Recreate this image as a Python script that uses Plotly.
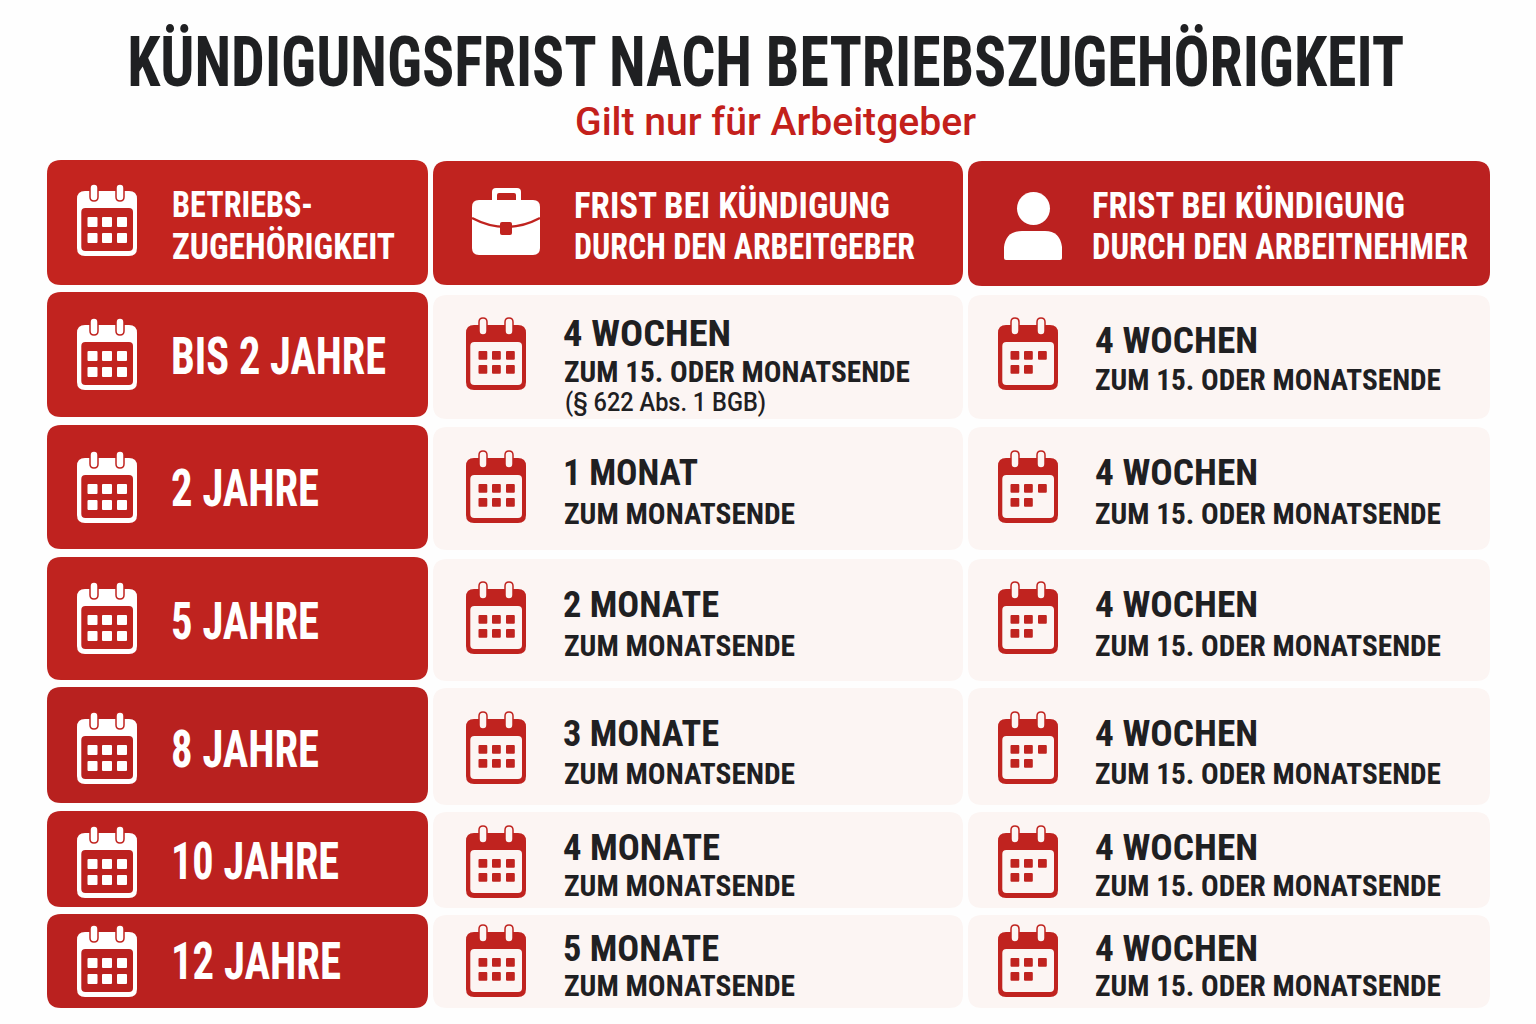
import json
import plotly.graph_objects as go

title = "KÜNDIGUNGSFRIST NACH BETRIEBSZUGEHÖRIGKEIT"
subtitle = "Gilt nur für Arbeitgeber"
headers = [["BETRIEBS-", "ZUGEHÖRIGKEIT"],
           ["FRIST BEI KÜNDIGUNG", "DURCH DEN ARBEITGEBER"],
           ["FRIST BEI KÜNDIGUNG", "DURCH DEN ARBEITNEHMER"]]
tenure = ["BIS 2 JAHRE", "2 JAHRE", "5 JAHRE", "8 JAHRE", "10 JAHRE", "12 JAHRE"]
employer_main = ["4 WOCHEN", "1 MONAT", "2 MONATE", "3 MONATE", "4 MONATE", "5 MONATE"]
employer_sub = ["ZUM 15. ODER MONATSENDE", "ZUM MONATSENDE", "ZUM MONATSENDE",
                "ZUM MONATSENDE", "ZUM MONATSENDE", "ZUM MONATSENDE"]
employee_main = ["4 WOCHEN"] * 6
employee_sub = ["ZUM 15. ODER MONATSENDE"] * 6
note = "(§ 622 Abs. 1 BGB)"

# layout (pixels)
left_tops = [292, 425, 557, 687, 811, 914]
left_bots = [417, 549, 680, 803, 907, 1008]
cell_tops = [295, 427, 559, 688, 812, 915]
cell_bots = [419, 550, 681, 805, 908, 1008]
icon_mid = [354, 487, 618, 748, 862, 961]
label_y = [356, 488, 621, 749, 861, 961]
emp_main_y = [333, 472, 604, 733, 847, 948]
emp_sub_y = [371, 513, 645, 773, 885, 985]
ee_main_y = [340, 472, 604, 733, 847, 948]
ee_sub_y = [379, 513, 645, 773, 885, 985]
# drawn text widths
header_w = [[141, 223], [316, 341], [313, 376]]
tenure_w = [215, 148, 148, 148, 168, 170]
employer_main_w = [168, 135, 156, 156, 157, 156]
employer_sub_w = [346, 231, 231, 231, 231, 231]
employee_main_w = 163
employee_sub_w = 346

RED = "#c0231f"
RED2 = "#bb2120"
row_reds = ["#c1231f", "#bf221f", "#bf231f", "#b8211f", "#bc211f", "#ba211f"]
LIGHT = "#fcf5f3"
DARK = "#1f2022"
WHITE = "#ffffff"
NARROW = "Roboto Condensed, sans-serif"
shapes, notes, widths = [], [], []


def rr(x0, y0, x1, y1, r):
    return (f"M{x0+r},{y0} L{x1-r},{y0} Q{x1},{y0} {x1},{y0+r} L{x1},{y1-r} Q{x1},{y1} {x1-r},{y1} "
            f"L{x0+r},{y1} Q{x0},{y1} {x0},{y1-r} L{x0},{y0+r} Q{x0},{y0} {x0+r},{y0} Z")


def circle(cx, cy, r):
    k = 0.5523 * r
    return (f"M{cx+r},{cy} C{cx+r},{cy+k} {cx+k},{cy+r} {cx},{cy+r} C{cx-k},{cy+r} {cx-r},{cy+k} {cx-r},{cy} "
            f"C{cx-r},{cy-k} {cx-k},{cy-r} {cx},{cy-r} C{cx+k},{cy-r} {cx+r},{cy-k} {cx+r},{cy} Z")


def add(path, fill, line=None, lw=0):
    shapes.append(dict(type="path", path=path, fillcolor=fill, xref="x", yref="y", layer="above",
                       line=dict(color=line or fill, width=lw)))


def txt(x, y, s, size, color, width, bold=True, family=NARROW, anchor="left", weight=None):
    font = dict(family=family, size=size, color=color)
    if weight:
        font["weight"] = weight
    notes.append(dict(x=x, y=y, xref="x", yref="y", text=f"<b>{s}</b>" if bold else s, showarrow=False,
                      xanchor=anchor, align=anchor, yanchor="middle", borderpad=0, font=font))
    widths.append(width)


def calendar(x, mid, outer, inner, pill, cells):
    top = mid - 36
    light = outer == WHITE
    xs = (10.5, 25, 40) if light else (12.5, 26, 40)
    ys = (33, 49) if light else (33, 47)
    side = 10 if light else 8.8
    add(rr(x, top + 7, x + 60, top + 72, 8), outer)
    add(rr(x + 4.3, top + 24, x + 56, top + 67, 4), inner)
    for rx in (17, 43):
        add(rr(x + rx - 4, top, x + rx + 4, top + 17, 4), pill, RED, 1.5)
    squares = ""
    for j, sy in enumerate(ys):
        for i, sx in enumerate(xs):
            if (j, i) in cells:
                squares += rr(x + sx, top + sy, x + sx + side, top + sy + side, 1) + " "
    add(squares, pill if light else RED)


ALL = {(j, i) for j in range(2) for i in range(3)}
FIVE = ALL - {(1, 2)}

# header bars
add(rr(47, 160, 428, 285, 14), "#c4241f")
add(rr(433, 161, 963, 285, 14), RED)
add(rr(968, 161, 1490, 286, 14), RED2)
calendar(77, 220, WHITE, RED, WHITE, ALL)

# briefcase
add(rr(492, 188, 521, 206, 4), WHITE)
add(rr(497, 193, 516, 204, 2), RED)
add(rr(472, 200, 540, 255, 7), WHITE)
add("M472,218 Q506,236 540,218", "rgba(0,0,0,0)", RED, 2.5)
add(rr(500, 222, 512, 235, 2), RED)

# person
add(circle(1033.5, 208.5, 16.5), WHITE)
add("M1004,258 L1004,247 Q1006,231 1022,231 L1045,231 Q1060,231 1062,247 L1062,258 Q1062,260 1060,260 "
    "L1006,260 Q1004,260 1004,258 Z", WHITE)

for k, (h, x, w) in enumerate(zip(headers, (171, 573, 1091), header_w)):
    txt(x, 204 if k == 0 else 205, h[0], 37, WHITE, w[0])
    txt(x, 246, h[1], 37, WHITE, w[1])

for i in range(6):
    add(rr(47, left_tops[i], 428, left_bots[i], 14), row_reds[i])
    add(rr(433, cell_tops[i], 963, cell_bots[i], 14), LIGHT)
    add(rr(968, cell_tops[i], 1490, cell_bots[i], 14), LIGHT)
    calendar(77, icon_mid[i], WHITE, row_reds[i], WHITE, ALL)
    calendar(466, icon_mid[i], RED, LIGHT, LIGHT, ALL)
    calendar(998, icon_mid[i], RED, LIGHT, LIGHT, FIVE)
    txt(170, label_y[i], tenure[i], 52, WHITE, tenure_w[i])
    txt(562, emp_main_y[i], employer_main[i], 37, DARK, employer_main_w[i])
    txt(563, emp_sub_y[i], employer_sub[i], 30, DARK, employer_sub_w[i])
    txt(1094, ee_main_y[i], employee_main[i], 37, DARK, employee_main_w)
    txt(1094, ee_sub_y[i], employee_sub[i], 30, DARK, employee_sub_w)

txt(564, 402, note, 25, DARK, 201, bold=False, family="Roboto, sans-serif", weight=500)
txt(765.5, 62, title, 70, DARK, 1277, anchor="center")
txt(574, 122, subtitle, 39, "#c3201b", 401, bold=False, family="Roboto, sans-serif", weight=500)

fig = go.Figure()
fig.update_layout(width=1536, height=1024, margin=dict(l=0, r=0, t=0, b=0), showlegend=False,
                  paper_bgcolor="#fefefe", plot_bgcolor="#fefefe", shapes=shapes, annotations=notes,
                  xaxis=dict(range=[0, 1536], visible=False, fixedrange=True),
                  yaxis=dict(range=[1024, 0], visible=False, fixedrange=True))
script = ("document.body.style.margin='0';var w=" + json.dumps(widths) + ";"
          "document.querySelectorAll('.annotation-text').forEach(function(t,i){"
          "t.setAttribute('textLength',w[i]);t.setAttribute('lengthAdjust','spacingAndGlyphs');});")
fig.write_html("out.html", config=dict(displayModeBar=False), post_script=script)
